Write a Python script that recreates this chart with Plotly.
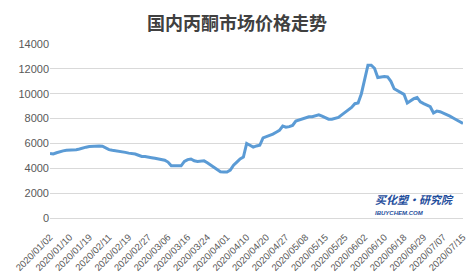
import plotly.graph_objects as go

tick_labels = ["2020/01/02", "2020/01/10", "2020/01/19", "2020/02/11", "2020/02/19",
               "2020/02/27", "2020/03/06", "2020/03/16", "2020/03/24", "2020/04/01",
               "2020/04/10", "2020/04/20", "2020/04/27", "2020/05/08", "2020/05/15",
               "2020/05/25", "2020/06/02", "2020/06/10", "2020/06/18", "2020/06/29",
               "2020/07/07", "2020/07/15"]

prices = [5200, 5150, 5250, 5350, 5400, 5450, 5450, 5470, 5500, 5550,
          5650, 5700, 5750, 5780, 5800, 5800, 5780, 5650, 5500, 5450,
          5420, 5400, 5350, 5280, 5220, 5200, 5150, 5050, 4950, 4950,
          4930, 4850, 4800, 4750, 4680, 4650, 4500, 4200, 4200, 4200,
          4200, 4550, 4700, 4750, 4600, 4550, 4580, 4600, 4450, 4250,
          4050, 3850, 3720, 3700, 3700, 3850, 4250, 4500, 4750, 4900,
          6000, 5850, 5700, 5800, 5850, 6450, 6550, 6600, 6750, 6900,
          7050, 7400, 7300, 7350, 7450, 7800, 7900, 7950, 8100, 8150,
          8150, 8250, 8300, 8200, 8050, 7950, 7950, 8000, 8100, 8300,
          8500, 8700, 8900, 9200, 9250, 10000, 11100, 12300, 12300, 12050,
          11300, 11350, 11380, 11350, 11000, 10400, 10250, 10150, 9950, 9250,
          9450, 9600, 9700, 9350, 9200, 9100, 8950, 8450, 8600, 8550,
          8450, 8300, 8200, 8050, 7900, 7700, 7600]

label_step = 6
idx = list(range(len(prices)))
tick_pos = [i * label_step for i in range(len(tick_labels))]

fig = go.Figure()
fig.add_trace(go.Scatter(x=idx, y=prices, mode="lines",
                         line=dict(color="#5b9bd5", width=3, shape="linear"),
                         hoverinfo="skip"))

fig.update_layout(
    width=474, height=280,
    margin=dict(l=50, r=11, t=44, b=62),
    paper_bgcolor="white", plot_bgcolor="white",
    showlegend=False,
    title=dict(text="<b>国内丙酮市场价格走势</b>", x=0.5, xanchor="center", y=0.915, yanchor="middle",
               font=dict(family="Noto Sans CJK SC", size=18, color="#404040")),
    font=dict(family="Liberation Sans, Arial", color="#595959"),
)
fig.update_xaxes(range=[0, len(prices) - 1], tickmode="array", tickvals=tick_pos,
                 ticktext=tick_labels, tickangle=-45, tickfont=dict(size=9.5, color="#595959"),
                 showgrid=False, zeroline=False, showline=True, linecolor="#d9d9d9", linewidth=1,
                 ticks="outside", ticklen=9, tickcolor="rgba(0,0,0,0)", automargin=False)
fig.update_yaxes(range=[0, 14000], tickmode="linear", tick0=0, dtick=2000, tickformat="d",
                 tickfont=dict(size=11, color="#595959"), showgrid=True, gridcolor="#d9d9d9",
                 gridwidth=1, zeroline=False, showline=False, ticks="", automargin=False)

fig.add_annotation(xref="paper", yref="paper", x=0.782, y=0.05, xanchor="left", yanchor="bottom",
                   text="<b><i>买化塑·研究院</i></b>", showarrow=False,
                   font=dict(family="Noto Sans CJK SC", size=11, color="#1f4e9c"))
fig.add_annotation(xref="paper", yref="paper", x=0.782, y=0.06, xanchor="left", yanchor="top",
                   text="<b><i>IBUYCHEM.COM</i></b>", showarrow=False,
                   font=dict(family="Liberation Sans", size=6, color="#1f4e9c"))

fig.write_html("out.html")
